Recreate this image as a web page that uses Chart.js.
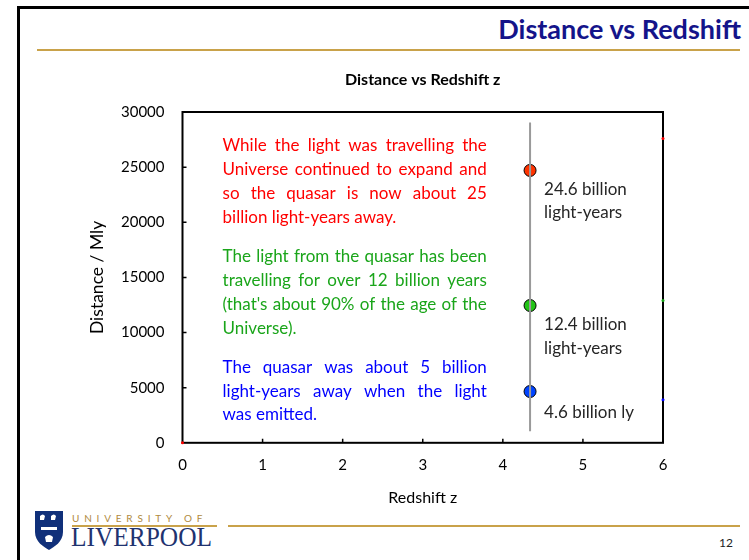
<!DOCTYPE html>
<html>
<head>
<meta charset="utf-8">
<script src="https://cdn.jsdelivr.net/npm/chart.js@4"></script>
<style>
  html, body { margin: 0; padding: 0; background: #fff; }
  #slide { position: relative; width: 749px; height: 560px; overflow: hidden; font-family: Lato, sans-serif; }
  #frame { position: absolute; left: 17px; top: 6px; right: -10px; bottom: -10px; border-left: 3px solid #000; border-top: 3px solid #000; }
  #heading { position: absolute; right: 8px; top: 12px; font-size: 27px; font-weight: bold; color: #14148a; }
  .gold { position: absolute; height: 2px; background: #c9a24a; }
  #uni { position: absolute; left: 72px; top: 512px; font-size: 10px; letter-spacing: 4.8px; color: #b08a3e; }
  #liv { position: absolute; left: 71px; top: 522px; font-family: "Liberation Serif", serif; font-size: 27px; color: #1f3370; transform: scaleX(0.94); transform-origin: left top; }
  #page { position: absolute; right: 16px; top: 535px; font-size: 12px; color: #222; }
  #shield { position: absolute; left: 34px; top: 510px; }
  canvas { position: absolute; left: 0; top: 0; }
</style>
</head>
<body>
<div id="slide">
  <div id="frame"></div>
  <div id="heading">Distance vs Redshift</div>
  <div class="gold" style="left:37px; width:703px; top:49px;"></div>
  <svg id="shield" width="30" height="41" viewBox="0 0 30 41">
    <path d="M1 1 H29 V22 C29 32 20 37 15 40 C10 37 1 32 1 22 Z" fill="#10307a"/>
    <path d="M6 6 q3 -3 5 0 l-1 4 h-4 z M17 6 q3 -3 5 0 l-1 4 h-4 z" fill="#fff"/>
    <path d="M7 17 h16 v3 h-16 z" fill="#fff"/>
    <path d="M11 27 q4 -4 8 0 l-1 5 h-6 z" fill="#fff"/>
  </svg>
  <div id="uni">UNIVERSITY OF</div>
  <div class="gold" style="left:72px; width:145px; top:525px;"></div>
  <div class="gold" style="left:228px; width:512px; top:525px;"></div>
  <div id="liv">LIVERPOOL</div>
  <div id="page">12</div>
  <canvas id="distChart" width="749" height="560"></canvas>
</div>
<script>
// values
const zQuasar = 4.34;
const distanceNow = 24700;       // red point, Mly
const lightTravel = 12450;       // green point
const distanceEmitted = 4650;    // blue point
const markerLine = [1050, 29050]; // grey vertical line, bottom and top
const edgeMarks = [
  { x: 0, y: 0, color: '#ff0000' },
  { x: 6, y: 27600, color: '#ff0000' },
  { x: 6, y: 12900, color: '#18a818' },
  { x: 6, y: 3900, color: '#0000ff' }
];

const xTicks = [0, 1, 2, 3, 4, 5, 6];
const yTicks = [0, 5000, 10000, 15000, 20000, 25000, 30000];

const chartTitle = 'Distance vs Redshift z';
const pointLabels = [
  ['24.6 billion', 'light-years'],
  ['12.4 billion', 'light-years'],
  ['4.6 billion ly']
];

const redNote = ['While the light was travelling the', 'Universe continued to expand and', 'so the quasar is now about 25', 'billion light-years away.'];
const greenNote = ['The light from the quasar has been', 'travelling for over 12 billion years', "(that's about 90% of the age of the", 'Universe).'];
const blueNote = ['The quasar was about 5 billion', 'light-years away when the light', 'was emitted.'];

const FONT = 'Lato, sans-serif';

// writes a paragraph justified between x0 and x1, last line left aligned
function drawParagraph(ctx, lines, x0, x1, y, lineH, color) {
    ctx.fillStyle = color;
    lines.forEach((line, i) => {
        const words = line.split(' ');
        const last = i === lines.length - 1;
        if (last || words.length < 2) {
            ctx.fillText(line, x0, y + i * lineH);
            return;
        }
        const wordsW = words.reduce((s, w) => s + ctx.measureText(w).width, 0);
        const gap = (x1 - x0 - wordsW) / (words.length - 1);
        let x = x0;
        words.forEach(w => {
            ctx.fillText(w, x, y + i * lineH);
            x += ctx.measureText(w).width + gap;
        });
    });
}

const frameAndNotes = {
    id: 'frameAndNotes',
    beforeDatasetsDraw(chart) {
        const { ctx, chartArea: a, scales } = chart;
        ctx.save();
        ctx.strokeStyle = '#000';
        ctx.lineWidth = 2;
        ctx.strokeRect(a.left, a.top, a.right - a.left, a.bottom - a.top);
        // inner tick marks
        ctx.lineWidth = 1.5;
        ctx.beginPath();
        xTicks.slice(1, -1).forEach(v => {
            const px = scales.x.getPixelForValue(v);
            ctx.moveTo(px, a.bottom);
            ctx.lineTo(px, a.bottom - 4);
        });
        yTicks.slice(1, -1).forEach(v => {
            const py = scales.y.getPixelForValue(v);
            ctx.moveTo(a.left, py);
            ctx.lineTo(a.left + 4, py);
        });
        ctx.stroke();

        // title centred over the plot box
        ctx.fillStyle = '#000';
        ctx.font = 'bold 16px ' + FONT;
        ctx.textAlign = 'center';
        ctx.textBaseline = 'middle';
        ctx.fillText(chartTitle, (a.left + a.right) / 2, a.top - 32);

        // explanatory text
        ctx.font = '17px ' + FONT;
        ctx.textAlign = 'left';
        const x0 = scales.x.getPixelForValue(0.5);
        const x1 = scales.x.getPixelForValue(3.8);
        const yRed = a.top + 34;
        drawParagraph(ctx, redNote, x0, x1, yRed, 24, '#ff0000');
        drawParagraph(ctx, greenNote, x0, x1, yRed + 111, 24, '#1aa51a');
        drawParagraph(ctx, blueNote, x0, x1, yRed + 222, 23.5, '#0000ff');
        ctx.restore();
    },
    afterDatasetsDraw(chart) {
        const { ctx, scales } = chart;
        ctx.save();
        ctx.font = '17px ' + FONT;
        ctx.fillStyle = '#262626';
        ctx.textBaseline = 'middle';
        const vals = [distanceNow, lightTravel, distanceEmitted];
        const drop = [19, 19, 21];
        vals.forEach((v, i) => {
            const px = scales.x.getPixelForValue(zQuasar) + 14;
            const py = scales.y.getPixelForValue(v) + drop[i];
            pointLabels[i].forEach((t, j) => ctx.fillText(t, px, py + j * 23.5));
        });
        ctx.restore();
    }
};

const ctx = document.getElementById('distChart').getContext('2d');
new Chart(ctx, {
    type: 'scatter',
    data: {
        datasets: [
            {
                data: [{ x: zQuasar, y: markerLine[0] }, { x: zQuasar, y: markerLine[1] }],
                showLine: true,
                borderColor: '#9a9a9a',
                borderWidth: 2,
                pointRadius: 0
            },
            {
                data: edgeMarks.map(p => ({ x: p.x, y: p.y })),
                pointRadius: 1.5,
                pointBorderWidth: 0,
                backgroundColor: edgeMarks.map(p => p.color),
                clip: false
            },
            {
                data: [{ x: zQuasar, y: distanceNow }],
                pointRadius: 6,
                backgroundColor: '#ff3300',
                borderColor: '#000',
                borderWidth: 1
            },
            {
                data: [{ x: zQuasar, y: lightTravel }],
                pointRadius: 6,
                backgroundColor: '#22c416',
                borderColor: '#000',
                borderWidth: 1
            },
            {
                data: [{ x: zQuasar, y: distanceEmitted }],
                pointRadius: 6,
                backgroundColor: '#0044ff',
                borderColor: '#000',
                borderWidth: 1
            }
        ]
    },
    options: {
        responsive: false,
        animation: false,
        events: [],
        layout: { padding: { top: 112, left: 82, right: 86, bottom: 49 } },
        plugins: {
            legend: { display: false },
            tooltip: { enabled: false },
            title: { display: false }
        },
        scales: {
            x: {
                type: 'linear',
                min: 0,
                max: 6,
                afterBuildTicks: axis => { axis.ticks = xTicks.map(v => ({ value: v })); },
                ticks: { color: '#000', font: { family: FONT, size: 15 }, padding: 13.5 },
                grid: { display: false, drawTicks: false },
                border: { display: false },
                title: {
                    display: true,
                    text: 'Redshift z',
                    color: '#000',
                    font: { family: FONT, size: 16 },
                    padding: { top: 0, bottom: 4 }
                }
            },
            y: {
                type: 'linear',
                min: 0,
                max: 30000,
                afterBuildTicks: axis => { axis.ticks = yTicks.map(v => ({ value: v })); },
                ticks: { color: '#000', font: { family: FONT, size: 15 }, padding: 18, callback: v => String(v) },
                grid: { display: false, drawTicks: false },
                border: { display: false },
                title: {
                    display: true,
                    text: 'Distance / Mly',
                    color: '#000',
                    font: { family: FONT, size: 17.5 },
                    padding: { top: 5, bottom: -5 }
                }
            }
        }
    },
    plugins: [frameAndNotes]
});
</script>
</body>
</html>
